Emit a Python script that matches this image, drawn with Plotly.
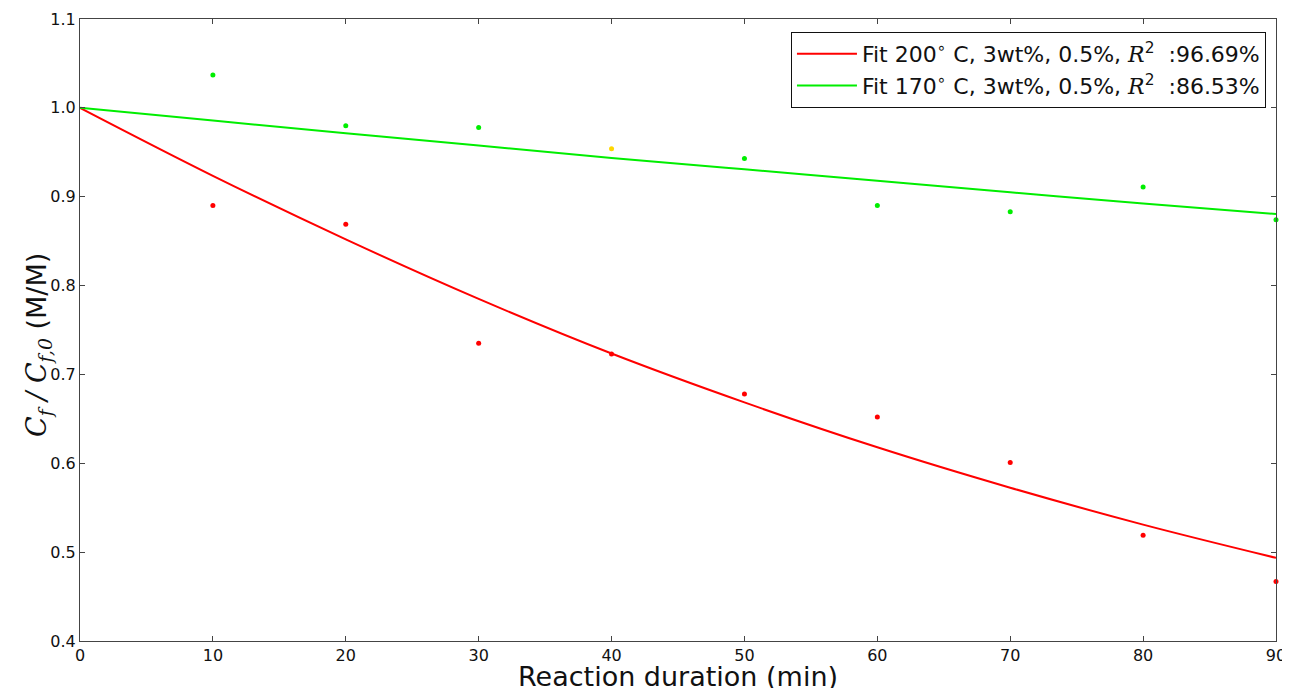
import plotly.graph_objects as go

# Measured data
t_points = [10, 20, 30, 40, 50, 60, 70, 80, 90]
red_points = [0.890, 0.869, 0.735, 0.723, 0.678, 0.652, 0.601, 0.519, 0.467]
green_points = [1.037, 0.980, 0.978, 0.954, 0.943, 0.890, 0.883, 0.911, 0.874]
green_point_colors = ["#00ee00", "#00ee00", "#00ee00", "#ffd700", "#00ee00",
                      "#00ee00", "#00ee00", "#00ee00", "#00ee00"]

# Fit curves
t_fit = [0, 10, 20, 30, 40, 50, 60, 70, 80, 90]
red_fit = [1.0, 0.9235, 0.852, 0.785, 0.7235, 0.6685, 0.618, 0.5725, 0.531, 0.4936]
green_fit = [1.0, 0.9857, 0.9714, 0.9575, 0.9436, 0.9308, 0.918, 0.905, 0.8925, 0.8806]

x_ticks = [0, 10, 20, 30, 40, 50, 60, 70, 80, 90]
y_ticks = [0.4, 0.5, 0.6, 0.7, 0.8, 0.9, 1.0, 1.1]
y_ticktext = ["0.4", "0.5", "0.6", "0.7", "0.8", "0.9", "1.0", "1.1"]

red_name = "Fit 200<sup>∘</sup> C, 3wt%, 0.5%, <i><span style='font-family:DejaVu Serif'>R</span></i><sup>2</sup>  :96.69%"
green_name = "Fit 170<sup>∘</sup> C, 3wt%, 0.5%, <i><span style='font-family:DejaVu Serif'>R</span></i><sup>2</sup>  :86.53%"
x_title = "Reaction duration (min)"
y_title = "<i><span style='font-family:DejaVu Serif'>C<sub>f</sub> / C<sub>f,0</sub></span></i> (M/M)"

RED = "#ff0000"
GREEN = "#00ee00"

fig = go.Figure()
fig.add_trace(go.Scatter(x=t_fit, y=red_fit, mode="lines", line=dict(color=RED, width=2, shape="spline"),
                         name=red_name))
fig.add_trace(go.Scatter(x=t_fit, y=green_fit, mode="lines", line=dict(color=GREEN, width=2, shape="spline"),
                         name=green_name))
fig.add_trace(go.Scatter(x=t_points, y=red_points, mode="markers",
                         marker=dict(color=RED, size=5), showlegend=False, cliponaxis=False))
fig.add_trace(go.Scatter(x=t_points, y=green_points, mode="markers",
                         marker=dict(color=green_point_colors, size=5), showlegend=False, cliponaxis=False))

axis_common = dict(
    showgrid=False, zeroline=False, showline=True, linecolor="#444444", linewidth=1,
    mirror="allticks", ticks="inside", ticklen=5, tickcolor="#444444", automargin=False,
    tickfont=dict(family="DejaVu Sans", size=16, color="#111111"),
)

fig.update_layout(
    width=1290, height=688,
    margin=dict(l=72, r=22, t=11, b=55),
    paper_bgcolor="white", plot_bgcolor="white",
    font=dict(family="DejaVu Sans", color="#111111"),
    xaxis=dict(range=[0, 90], tickmode="array", tickvals=x_ticks, **axis_common),
    yaxis=dict(range=[0.4, 1.1], tickmode="array", tickvals=y_ticks, ticktext=y_ticktext, **axis_common),
    legend=dict(x=0.9916, y=0.979, xanchor="right", yanchor="top",
                bordercolor="#111111", borderwidth=1, bgcolor="white",
                font=dict(family="DejaVu Sans", size=22, color="#111111"),
                itemwidth=60, tracegroupgap=2),
    showlegend=True,
    annotations=[
        dict(text=x_title, xref="paper", yref="paper", x=0.5, y=0, xanchor="center", yanchor="top",
             yshift=-18, showarrow=False, font=dict(size=27, family="DejaVu Sans", color="#111111")),
        dict(text=y_title, xref="paper", yref="paper", x=0, y=0.5, xanchor="center", yanchor="middle",
             xshift=-42, yshift=-15, textangle=-90, showarrow=False,
             font=dict(size=27, family="DejaVu Sans", color="#111111")),
    ],
)

fig.write_html("out.html")
